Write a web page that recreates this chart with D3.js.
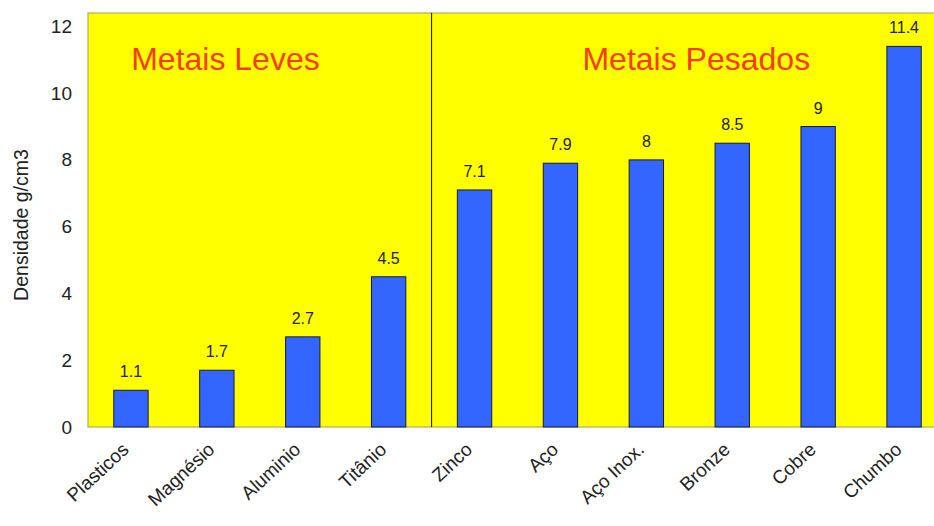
<!DOCTYPE html>
<html>
<head>
<meta charset="utf-8">
<script src="https://cdn.jsdelivr.net/npm/d3@7"></script>
<style>
  html, body { margin: 0; padding: 0; background: #ffffff; }
  svg { display: block; font-family: "Liberation Sans", Arial, sans-serif; }
</style>
</head>
<body>
<svg id="chart" width="934" height="526"></svg>
<script>
// Density of common materials (g/cm3)
const categories = ["Plasticos", "Magnésio", "Aluminio", "Titânio", "Zinco",
                    "Aço", "Aço Inox.", "Bronze", "Cobre", "Chumbo"];
const densities = [1.1, 1.7, 2.7, 4.5, 7.1, 7.9, 8, 8.5, 9, 11.4];
const yTicks = [0, 2, 4, 6, 8, 10, 12];
const yTitle = "Densidade g/cm3";
// Material groups: light metals end at Titânio, heavy metals start at Zinco
const groupNames = ["Metais Leves", "Metais Pesados"];
const groupFirst = ["Plasticos", "Zinco"];

const svg = d3.select("#chart");
const plotLeft = 88, plotRight = 947, plotTop = 13, plotBottom = 427;

const x = d3.scaleBand()
  .domain(categories)
  .range([plotLeft, plotRight])
  .paddingInner(0.6)
  .paddingOuter(0.3);

const y = d3.scaleLinear()
  .domain([0, 12.4])
  .range([plotBottom, plotTop]);

const step = x.step();
const gap = (step - x.bandwidth()) / 2;

// Plot background
svg.append("rect")
  .attr("x", plotLeft).attr("y", plotTop)
  .attr("width", plotRight - plotLeft).attr("height", plotBottom - plotTop)
  .attr("fill", "#ffff00")
  .attr("stroke", "#b2ac5c")
  .attr("stroke-width", 1.2);

// Divider between the two groups
const divX = x(groupFirst[1]) - gap;
svg.append("line")
  .attr("x1", divX).attr("x2", divX)
  .attr("y1", plotTop).attr("y2", plotBottom)
  .attr("stroke", "#111")
  .attr("stroke-width", 1);

// Group titles
const groupX = [
  x("Magnésio") + x.bandwidth() / 2 + 0.1 * step,
  (x("Aço Inox.") + x("Bronze")) / 2 + x.bandwidth() / 2 + 7
];
svg.selectAll("text.group")
  .data(groupNames)
  .join("text")
  .attr("class", "group")
  .attr("x", (d, i) => groupX[i])
  .attr("y", 70)
  .attr("text-anchor", "middle")
  .attr("font-size", 32)
  .attr("fill", "#fa3c0a")
  .text(d => d);

// Bars
const data = categories.map((c, i) => ({ c, v: densities[i] }));
svg.selectAll("rect.bar")
  .data(data)
  .join("rect")
  .attr("class", "bar")
  .attr("x", d => x(d.c))
  .attr("y", d => y(d.v))
  .attr("width", x.bandwidth())
  .attr("height", d => y(0) - y(d.v))
  .attr("fill", "#3366ff")
  .attr("stroke", "#1a1a3a")
  .attr("stroke-width", 1);

// Value labels
svg.selectAll("text.val")
  .data(data)
  .join("text")
  .attr("class", "val")
  .attr("x", d => x(d.c) + x.bandwidth() / 2)
  .attr("y", d => y(d.v) - 13)
  .attr("text-anchor", "middle")
  .attr("font-size", 16)
  .attr("fill", "#222")
  .text(d => d.v);

// Y axis (labels only)
const yAxis = d3.axisLeft(y).tickValues(yTicks).tickSize(0).tickPadding(16);
const gy = svg.append("g").attr("transform", `translate(${plotLeft},0)`).call(yAxis);
gy.select(".domain").remove();
gy.selectAll("text")
  .attr("font-size", 19)
  .attr("font-family", "Liberation Sans, Arial, sans-serif")
  .attr("fill", "#222");

// Y title
svg.append("text")
  .attr("transform", "translate(28,225) rotate(-90)")
  .attr("text-anchor", "middle")
  .attr("font-size", 19.5)
  .attr("fill", "#222")
  .text(yTitle);

// X axis (rotated labels)
const xAxis = d3.axisBottom(x).tickSize(0).tickPadding(0);
const gx = svg.append("g").attr("transform", `translate(0,${plotBottom})`).call(xAxis);
gx.select(".domain").remove();
gx.selectAll("text")
  .attr("font-size", 19)
  .attr("font-family", "Liberation Sans, Arial, sans-serif")
  .attr("fill", "#222")
  .attr("text-anchor", "end")
  .attr("dy", 0)
  .attr("y", 0)
  .attr("transform", "translate(-1,24) rotate(-43)");
</script>
</body>
</html>
